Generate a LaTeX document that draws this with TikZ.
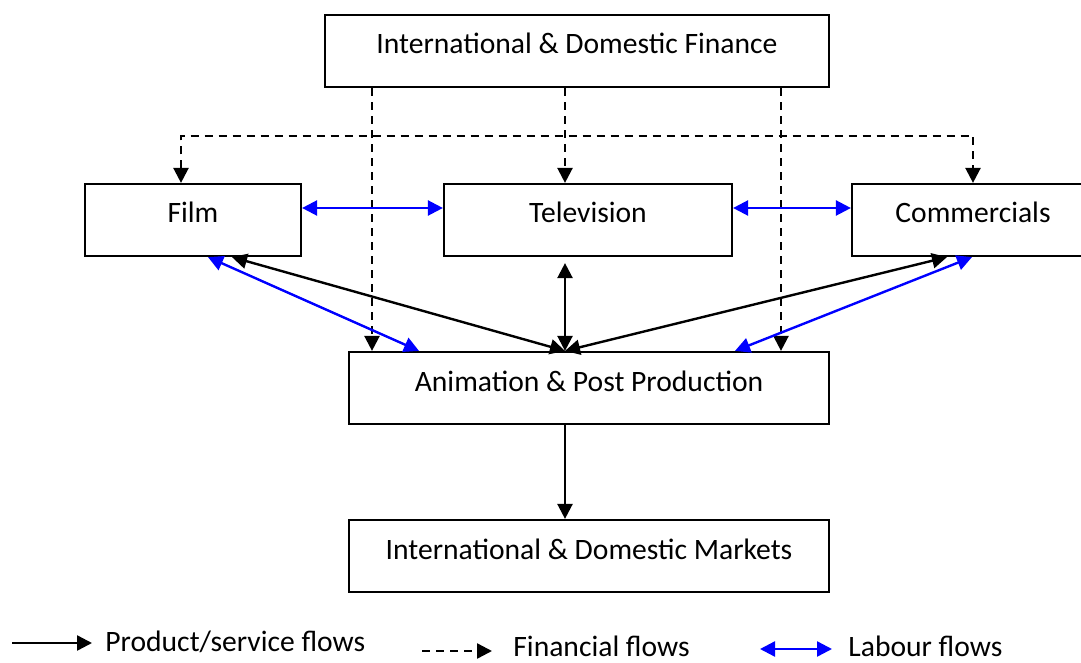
\documentclass[tikz,border=0pt]{standalone}
\usepackage{fontspec}
\setmainfont{Carlito}
\usetikzlibrary{arrows.meta}

\begin{document}
\begin{tikzpicture}[x=0.5pt, y=-0.5pt, >={Triangle[length=7.5pt,width=7.5pt]},
  box/.style={shape=rectangle, draw=black, line width=1.1pt, minimum height=36pt, text height=10pt, text depth=7pt, font=\fontsize{14.8}{18}\selectfont},
  legend/.style={inner sep=0pt, anchor=base west, font=\fontsize{14.8}{18}\selectfont},
  prodflow/.style={draw=black, line width=1.2pt},
  finflow/.style={draw=black, line width=1.2pt, dash pattern=on 4pt off 3pt},
  labflow/.style={draw=blue, line width=1.2pt, <->}]
\useasboundingbox (0,0) rectangle (1081,663);
\node[box, minimum width=252pt] (fin) at (577,51) {International \& Domestic Finance};
\node[box, minimum width=108pt] (film) at (193,220) {Film};
\node[box, minimum width=144pt] (tv) at (588,220) {Television};
\node[box, minimum width=121pt] (com) at (973,220) {Commercials};
\node[box, minimum width=240pt] (anim) at (589,388) {Animation \& Post Production};
\node[box, minimum width=240pt] (mkt) at (589,556) {International \& Domestic Markets};
\coordinate (hub) at ([xshift=-12pt]anim.north);
\coordinate (bus) at (577,136);
\coordinate (fA) at ([xshift=-102.5pt]fin.south);
\coordinate (fB) at ([xshift=-6pt]fin.south);
\coordinate (fC) at ([xshift=102pt]fin.south);
% financial flows
\draw[finflow, ->] (fA) -- (fA |- anim.north);
\draw[finflow, ->] (fB) -- (fB |- tv.north);
\draw[finflow, ->] (fC) -- (fC |- anim.north);
\draw[finflow, <->] ([xshift=-6pt]film.north) |- (bus) -| (com.north);
% labour flows
\draw[labflow] ([yshift=6pt]film.east) -- ([yshift=6pt]tv.west);
\draw[labflow] ([yshift=6pt]tv.east) -- ([yshift=6pt]com.west);
\draw[labflow] ([xshift=7.5pt]film.south) -- ([xshift=-85pt]anim.north);
\draw[labflow] ([xshift=-0.5pt]com.south) -- ([xshift=73pt]anim.north);
% product/service flows
\draw[prodflow, <->] ([xshift=19.5pt]film.south) -- (hub);
\draw[prodflow, <->] ([xshift=-13pt]com.south) -- (hub);
\draw[prodflow, <->, shorten <=3pt] (tv.south -| hub) -- (hub);
\draw[prodflow, ->] (anim.south -| hub) -- (mkt.north -| hub);
% legend
\coordinate (l1s) at (12,643);  \coordinate (l1e) at (92,643);
\coordinate (l2s) at (422,651); \coordinate (l2e) at (492,651);
\coordinate (l3s) at (760,649); \coordinate (l3e) at (832,649);
\draw[prodflow, ->] (l1s) -- (l1e);
\draw[finflow, ->] (l2s) -- (l2e);
\draw[labflow] (l3s) -- (l3e);
\node[legend] (l1t) at (105,651) {Product/service flows};
\node[legend] (l2t) at (513,656) {Financial flows};
\node[legend] (l3t) at (848,656) {Labour flows};
\end{tikzpicture}
\end{document}
